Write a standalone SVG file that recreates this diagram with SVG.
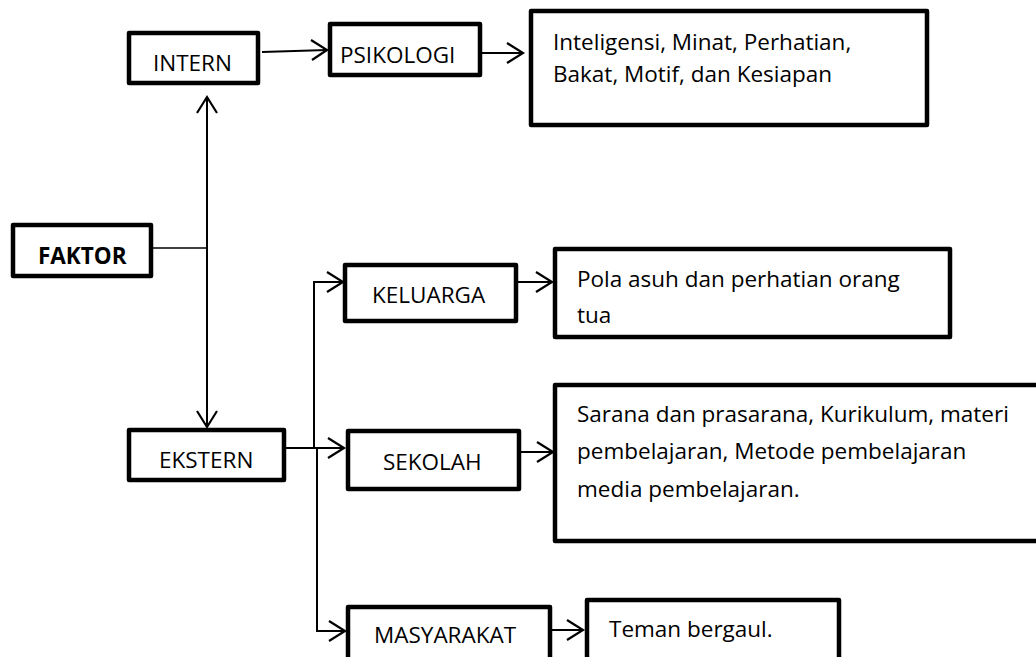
<svg xmlns="http://www.w3.org/2000/svg" width="1036" height="657" viewBox="0 0 1036 657">
<style>
.box{fill:#fff;stroke:#000;stroke-width:4.5;stroke-linejoin:round}
.t{font-family:"Open Sans","DejaVu Sans",sans-serif;font-size:22.5px;fill:#000}
.b{font-weight:bold}
.c{fill:none;stroke:#000;stroke-width:2}
.thin{fill:none;stroke:#000;stroke-width:1.3}
.ah{fill:none;stroke:#000;stroke-width:2.2;stroke-linecap:butt}
</style>
<rect width="1036" height="657" fill="#fff"/>
<g id="connectors">
  <line class="thin" x1="153" y1="248" x2="207" y2="248"/>
  <line class="c" x1="207" y1="97" x2="207" y2="427"/>
  <polyline class="ah" points="197,113 207,97 217,113"/>
  <polyline class="ah" points="197,411 207,427 217,411"/>
  <line class="c" x1="262" y1="52" x2="327" y2="50"/>
  <polyline class="ah" points="311,40 327,50 312,60"/>
  <line class="c" x1="482" y1="53" x2="523" y2="53"/>
  <polyline class="ah" points="507,43 523,53 507,63"/>
  <polyline class="c" points="343,282 314,282 314,448"/>
  <polyline class="ah" points="327,272 343,282 327,292"/>
  <line class="c" x1="286" y1="448" x2="344" y2="448"/>
  <polyline class="ah" points="328,438 344,448 328,458"/>
  <polyline class="c" points="317,448 317,631 345,631"/>
  <polyline class="ah" points="329,621 345,631 329,641"/>
  <line class="c" x1="512" y1="282" x2="552" y2="282"/>
  <polyline class="ah" points="536,272 552,282 536,292"/>
  <line class="c" x1="519" y1="452" x2="553" y2="452"/>
  <polyline class="ah" points="537,442 553,452 537,462"/>
  <line class="c" x1="552" y1="630" x2="583" y2="630"/>
  <polyline class="ah" points="567,620 583,630 567,640"/>
</g>
<g id="intern">
  <rect class="box" x="129" y="33" width="129" height="50"/>
  <text class="t" x="153" y="71">INTERN</text>
</g>
<g id="psikologi">
  <rect class="box" x="330" y="24" width="150" height="51"/>
  <text class="t" x="340" y="63">PSIKOLOGI</text>
</g>
<g id="psikologi-detail">
  <rect class="box" x="531" y="11" width="396" height="114"/>
  <text class="t" x="553" y="50">Inteligensi, Minat, Perhatian,</text>
  <text class="t" x="553" y="82">Bakat, Motif, dan Kesiapan</text>
</g>
<g id="faktor">
  <rect class="box" x="13" y="225" width="138" height="51"/>
  <text class="t b" x="38" y="264">FAKTOR</text>
</g>
<g id="ekstern">
  <rect class="box" x="129" y="430" width="155" height="50"/>
  <text class="t" x="159" y="468">EKSTERN</text>
</g>
<g id="keluarga">
  <rect class="box" x="345" y="265" width="171" height="56"/>
  <text class="t" x="372" y="303">KELUARGA</text>
</g>
<g id="keluarga-detail">
  <rect class="box" x="555" y="249" width="395" height="88"/>
  <text class="t" x="577" y="287">Pola asuh dan perhatian orang</text>
  <text class="t" x="577" y="323">tua</text>
</g>
<g id="sekolah">
  <rect class="box" x="348" y="431" width="171" height="58"/>
  <text class="t" x="383" y="470">SEKOLAH</text>
</g>
<g id="sekolah-detail">
  <rect class="box" x="555" y="385" width="490" height="156"/>
  <text class="t" x="577" y="422">Sarana dan prasarana, Kurikulum, materi</text>
  <text class="t" x="577" y="459">pembelajaran, Metode pembelajaran</text>
  <text class="t" x="577" y="497">media pembelajaran.</text>
</g>
<g id="masyarakat">
  <rect class="box" x="348" y="607" width="202" height="70"/>
  <text class="t" x="374" y="643">MASYARAKAT</text>
</g>
<g id="masyarakat-detail">
  <rect class="box" x="587" y="600" width="252" height="80"/>
  <text class="t" x="609" y="637">Teman bergaul.</text>
</g>
</svg>
